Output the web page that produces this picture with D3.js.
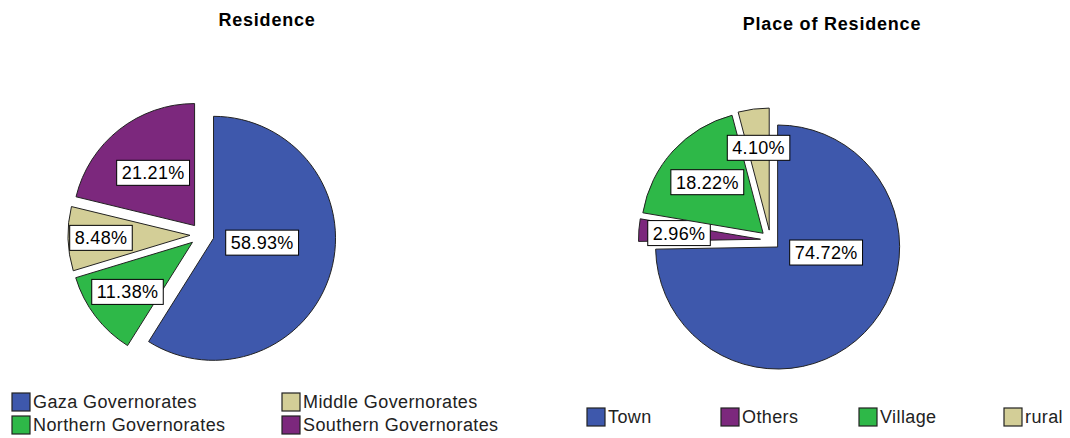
<!DOCTYPE html>
<html>
<head>
<meta charset="utf-8">
<script src="https://cdn.jsdelivr.net/npm/d3@7"></script>
<style>
  html, body { margin: 0; padding: 0; background: #fff; }
  svg { display: block; font-family: "Liberation Sans", Arial, sans-serif; }
</style>
</head>
<body>
<svg id="chart" width="1070" height="438"></svg>
<script>
// ---- data ----
const leftTitle = "Residence";
const leftCategories = ["Gaza Governorates", "Northern Governorates", "Middle Governorates", "Southern Governorates"];
const leftValues = [58.93, 11.38, 8.48, 21.21];
const leftLegendOrder = ["Gaza Governorates", "Middle Governorates", "Northern Governorates", "Southern Governorates"];

const rightTitle = "Place of Residence";
const rightCategories = ["Town", "Others", "Village", "rural"];
const rightValues = [74.72, 2.96, 18.22, 4.10];
const rightLegendOrder = ["Town", "Others", "Village", "rural"];

// ---- styling / layout ----
const colorOf = {
  "Gaza Governorates": "#3E58AC", "Northern Governorates": "#2EB848",
  "Middle Governorates": "#D3CE97", "Southern Governorates": "#7C287D",
  "Town": "#3E58AC", "Others": "#7C287D", "Village": "#2EB848", "rural": "#D3CE97"
};

const svg = d3.select("#chart");
const FONT = 18;

function drawPie(cfg) {
  const data = cfg.categories.map((c, i) => ({ cat: c, value: cfg.values[i], idx: i }));
  const pie = d3.pie().sort(null).value(d => d.value).startAngle(0).endAngle(2 * Math.PI);
  const arcs = pie(data);
  const arc = d3.arc().innerRadius(0).outerRadius(cfg.r);
  const g = svg.append("g").attr("transform", `translate(${cfg.cx},${cfg.cy})`);

  g.append("text")
    .attr("x", cfg.titleX - cfg.cx).attr("y", cfg.titleY - cfg.cy)
    .attr("text-anchor", "middle").attr("font-weight", "bold")
    .attr("font-size", FONT).attr("letter-spacing", 0.8)
    .text(cfg.title);

  const slices = g.selectAll("g.slice").data(arcs).enter().append("g")
    .attr("class", "slice")
    .attr("transform", d => {
      const m = (d.startAngle + d.endAngle) / 2;
      return `translate(${Math.sin(m) * cfg.explode},${-Math.cos(m) * cfg.explode})`;
    });

  slices.append("path")
    .attr("d", arc)
    .attr("fill", d => colorOf[d.data.cat])
    .attr("stroke", "#222").attr("stroke-width", 1);

  slices.each(function (d, i) {
    const m = (d.startAngle + d.endAngle) / 2 + (cfg.labelAngleShift[i] || 0) * Math.PI / 180;
    const rr = cfg.labelFactor[i] * cfg.r;
    const x = Math.sin(m) * rr, y = -Math.cos(m) * rr;
    const lg = d3.select(this).append("g").attr("transform", `translate(${x},${y})`);
    const t = lg.append("text")
      .attr("text-anchor", "middle").attr("dy", "0.36em")
      .attr("font-size", FONT).attr("letter-spacing", 0.3)
      .text(d.data.value.toFixed(2) + "%");
    const bb = t.node().getBBox();
    lg.insert("rect", "text")
      .attr("x", bb.x - 5).attr("y", -12.5)
      .attr("width", bb.width + 10).attr("height", 25)
      .attr("fill", "#fff").attr("stroke", "#000").attr("stroke-width", 1);
  });
}

function drawLegend(items, positions) {
  items.forEach((name, i) => {
    const p = positions[i];
    const lg = svg.append("g").attr("transform", `translate(${p[0]},${p[1]})`);
    lg.append("rect").attr("x", 0).attr("y", -9).attr("width", 18).attr("height", 18)
      .attr("fill", colorOf[name]).attr("stroke", "#222").attr("stroke-width", 1.2);
    lg.append("text").attr("x", 21).attr("y", 0).attr("dy", "0.36em")
      .attr("font-size", FONT).attr("letter-spacing", 0.4).attr("fill", "#222").text(name);
  });
}

drawPie({
  title: leftTitle, titleX: 267, titleY: 26,
  categories: leftCategories, values: leftValues,
  cx: 202, cy: 235, r: 122, explode: 12,
  labelFactor: [0.4, 0.67, 0.73, 0.55],
  labelAngleShift: [-11, 0, 0, 0]
});
drawPie({
  title: rightTitle, titleX: 832, titleY: 30,
  categories: rightCategories, values: rightValues,
  cx: 770.5, cy: 240, r: 122, explode: 10,
  labelFactor: [0.4, 0.67, 0.62, 0.68],
  labelAngleShift: [-38, 0, 0, 0]
});

drawLegend(leftLegendOrder, [[12, 402], [282, 402], [12, 425], [282, 425]]);
drawLegend(rightLegendOrder, [[587, 417], [721, 417], [859, 417], [1004, 417]]);
</script>
</body>
</html>
